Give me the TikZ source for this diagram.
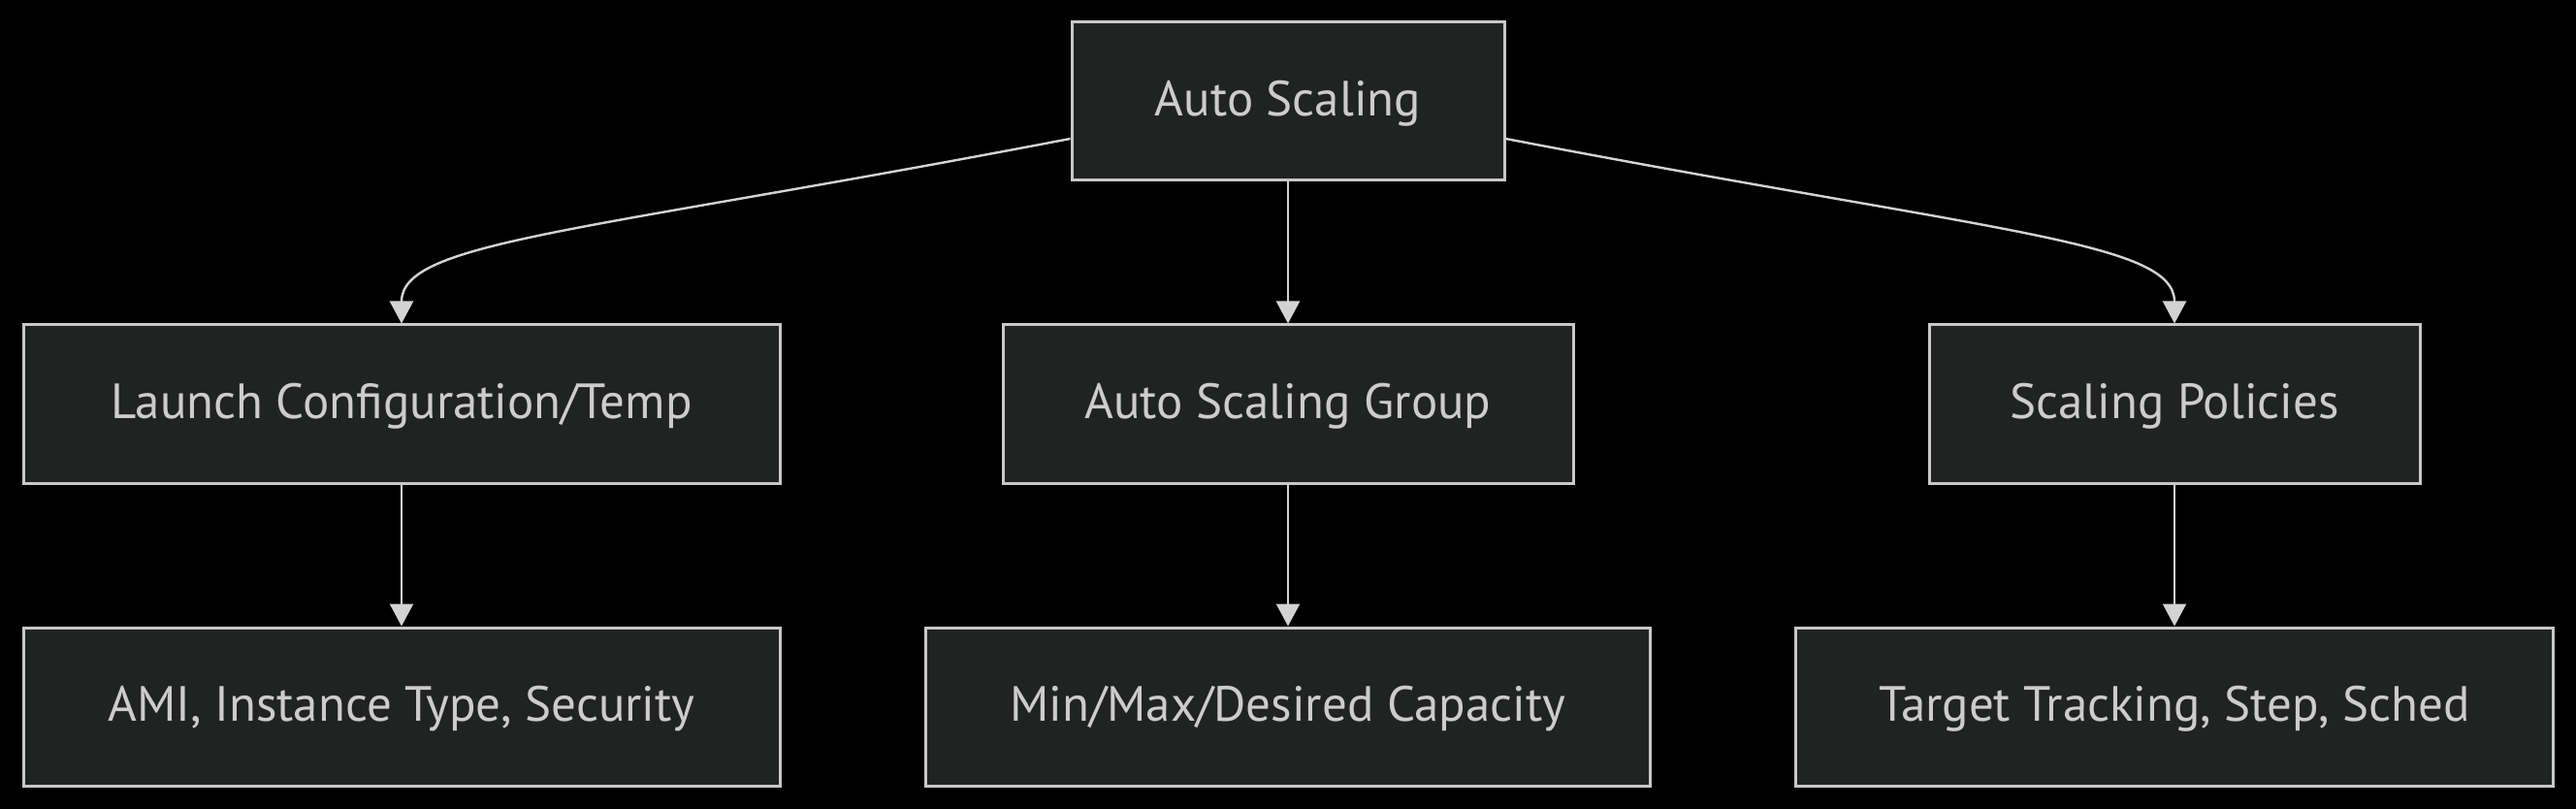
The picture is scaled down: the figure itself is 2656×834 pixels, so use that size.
\documentclass[tikz,border=0pt]{standalone}
\usepackage{fontspec}
\setmainfont{PT Sans}
\usetikzlibrary{arrows.meta,positioning}
\definecolor{boxfill}{HTML}{212322}
\definecolor{boxline}{HTML}{C8C8C8}
\definecolor{textgray}{HTML}{CCCCCC}
\definecolor{linegray}{HTML}{D3D3D3}

\begin{document}
\begin{tikzpicture}[
  x=0.5pt, y=-0.5pt,
  box/.style={rectangle, draw=boxline, fill=boxfill, line width=1.5pt, inner sep=0pt, minimum height=81.5pt, text=textgray, text height=18.4pt, text depth=3.1pt, font=\fontsize{25.5}{30}\selectfont},
  arrow/.style={-{Triangle[length=11.5pt,width=12pt]}, line width=1.2pt, draw=linegray}
]
\def\xLeft{414}
\def\xMid{1328}
\def\xRight{2242}
\def\yTop{104.5}
\def\yMiddle{416.5}
\def\yBottom{728.5}
\fill[black] (0,0) rectangle (2656,834);
\useasboundingbox (0,0) rectangle (2656,834);
\node[box, minimum width=223pt] (autoscaling) at (\xMid, \yTop) {Auto Scaling};
\node[box, minimum width=390pt] (launch) at (\xLeft, \yMiddle) {Launch Configuration/Temp};
\node[box, minimum width=294pt] (asg) at (\xMid, \yMiddle) {Auto Scaling Group};
\node[box, minimum width=253pt] (policies) at (\xRight, \yMiddle) {Scaling Policies};
\node[box, minimum width=390pt] (ami) at (\xLeft, \yBottom) {AMI, Instance Type, Security};
\node[box, minimum width=373.5pt] (capacity) at (\xMid, \yBottom) {Min/Max/Desired Capacity};
\node[box, minimum width=390.5pt] (tracking) at (\xRight, \yBottom) {Target Tracking, Step, Sched};
\draw[arrow] ([yshift=-19.25pt]autoscaling.west) .. controls +(-505,97) and +(0,-85) .. (launch.north);
\draw[arrow] (autoscaling) -- (asg);
\draw[arrow] ([yshift=-19.25pt]autoscaling.east) .. controls +(505,97) and +(0,-85) .. (policies.north);
\draw[arrow] (launch) -- (ami);
\draw[arrow] (asg) -- (capacity);
\draw[arrow] (policies) -- (tracking);
\end{tikzpicture}
\end{document}
